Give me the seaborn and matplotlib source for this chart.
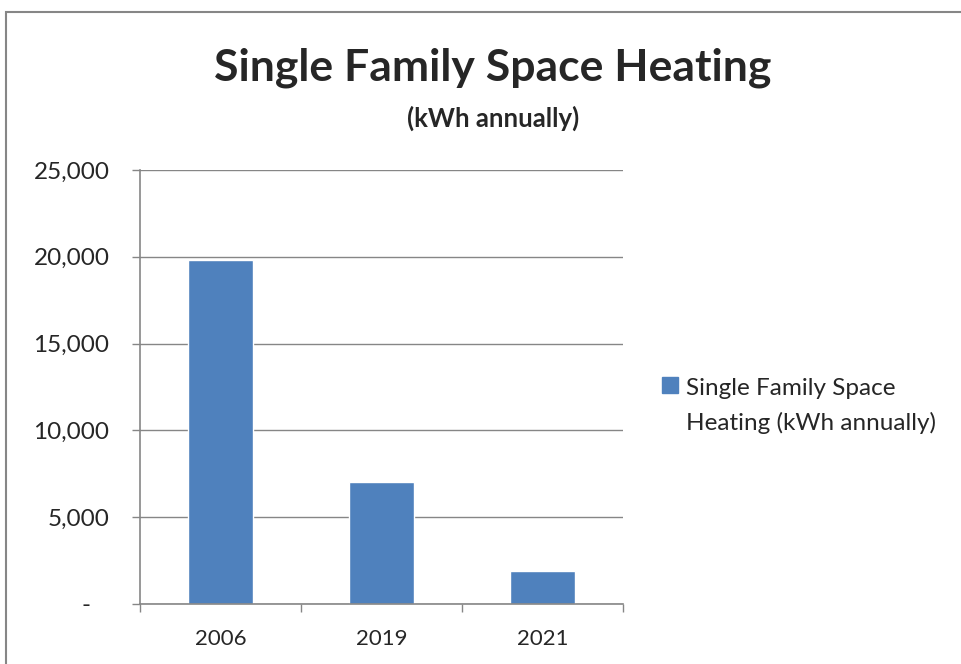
import matplotlib
matplotlib.use("Agg")
import matplotlib.pyplot as plt
import matplotlib.patches as mpatches
from matplotlib.legend_handler import HandlerPatch
import seaborn as sb
import pandas as pd

years = ["2006", "2019", "2021"]
kwh = [19800, 7030, 1890]
seriesName = "Single Family Space\nHeating (kWh annually)"
yTicks = [0, 5000, 10000, 15000, 20000, 25000]

barColor = "#4F81BD"
lineGrey = "#868686"


def topLineSquare(legend, orig_handle, xdescent, ydescent, width, height, fontsize):
    # put the legend square beside the first text line, like Excel does
    return mpatches.Rectangle((-xdescent, -ydescent + 15), width, height)


if __name__ == '__main__':
    df = pd.DataFrame({"year": years, "kwh": kwh})
    df["series"] = seriesName

    sb.set_style("white")
    plt.rcParams['font.family'] = ['Lato', 'DejaVu Sans']

    fig = plt.figure(figsize=(9.61, 6.64), dpi=100)
    ax = fig.add_axes([140 / 961, 1 - 604 / 664, 483 / 961, 434 / 664])

    sb.barplot(data=df, x="year", y="kwh", hue="series", palette=[barColor],
               width=0.4, ax=ax, legend=False, saturation=1)

    ax.set_xlim(-0.5, 2.5)
    ax.set_ylim(0, 25000)
    ax.set_yticks(yTicks)
    ax.set_yticklabels(['-   ' if v == 0 else f'{v:,}' for v in yTicks], fontsize=17.5)
    ax.yaxis.grid(True, color=lineGrey, linewidth=1)
    ax.set_axisbelow(True)
    ax.set_xlabel("")
    ax.set_ylabel("")

    for s in ["top", "right"]:
        ax.spines[s].set_visible(False)
    for s in ["left", "bottom"]:
        ax.spines[s].set_color(lineGrey)
        ax.spines[s].set_linewidth(1.2)

    ax.tick_params(axis="y", which="major", length=6, width=1, color=lineGrey,
                   pad=16, left=True)
    ax.tick_params(axis="x", which="major", length=0, pad=18, labelsize=16)
    ax.set_xticks([-0.5, 0.5, 1.5, 2.5], minor=True)
    ax.tick_params(axis="x", which="minor", length=6, width=1, color=lineGrey,
                   bottom=True)

    fig.text(493 / 961, 1 - 68 / 664, "Single Family Space Heating",
             ha="center", va="center", fontsize=32, fontweight="bold")
    fig.text(493 / 961, 1 - 118 / 664, "(kWh annually)",
             ha="center", va="center", fontsize=18.5, fontweight="bold")

    handle = mpatches.Patch(color=barColor, label=seriesName)
    fig.legend(handles=[handle], loc="upper left",
               bbox_to_anchor=(650 / 961, 1 - 366 / 664), frameon=False,
               fontsize=17.5, handlelength=0.65, handleheight=0.65,
               handletextpad=0.35, borderpad=0,
               handler_map={mpatches.Patch: HandlerPatch(patch_func=topLineSquare)})
    for t in fig.legends[0].get_texts():
        t.set_linespacing(1.7)

    border = mpatches.Rectangle((6 / 961, -0.1), 1.2, 1 - 12 / 664 + 0.1,
                                transform=fig.transFigure, fill=False,
                                edgecolor=lineGrey, linewidth=1.5)
    fig.patches.append(border)

    fig.savefig("out.png", dpi=100)
